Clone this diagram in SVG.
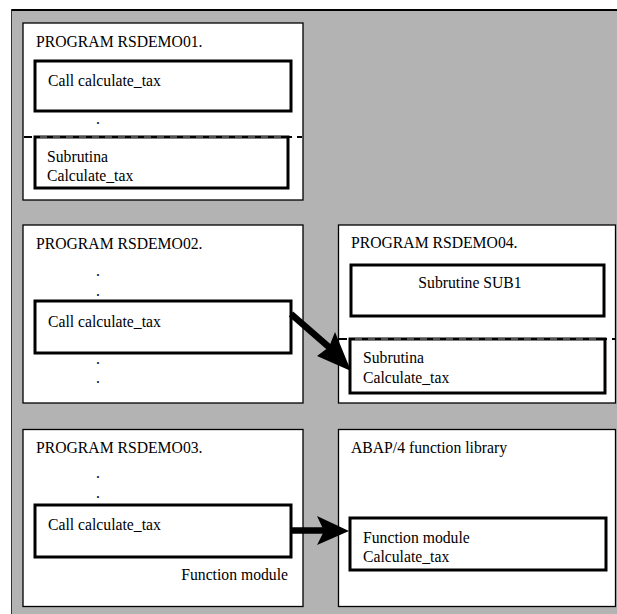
<svg xmlns="http://www.w3.org/2000/svg" width="617" height="614" viewBox="0 0 617 614">
  <style>
    .panel { fill: #ffffff; stroke: #000000; stroke-width: 1.3; }
    .box { fill: #ffffff; stroke: #000000; stroke-width: 3; }
    .sep { stroke: #000000; stroke-width: 2; stroke-dasharray: 8 5; fill: none; }
    .sepdots { stroke: #a0a0a0; stroke-width: 1; stroke-dasharray: 7 6; fill: none; }
    .link { stroke: #000000; stroke-width: 6.5; fill: none; }
    .head { fill: #000000; stroke: none; }
  </style>

  <!-- background frame -->
  <rect x="12" y="10" width="605" height="604" fill="#b3b3b3"/>
  <line x1="11" y1="10" x2="617" y2="10" stroke="#000" stroke-width="2"/>
  <line x1="11.5" y1="9" x2="11.5" y2="614" stroke="#333" stroke-width="1"/>

  <g font-family="'Liberation Serif', 'Times New Roman', 'DejaVu Serif', serif" font-size="15.7" fill="#000">
  <!-- RSDEMO01 -->
  <g id="rsdemo01">
    <rect class="panel" x="23" y="23" width="280" height="177"/>
    <text x="36" y="47">PROGRAM RSDEMO01.</text>
    <rect class="box" x="35" y="61" width="256" height="50"/>
    <text x="48" y="86">Call calculate_tax</text>
    <text x="96" y="124">.</text>
    <line class="sep" x1="24" y1="137" x2="302" y2="137"/>
    <rect class="box" x="35" y="137" width="253" height="51"/>
    <line class="sepdots" x1="40" y1="137" x2="285" y2="137"/>
    <text x="47" y="162">Subrutina</text>
    <text x="47" y="181">Calculate_tax</text>
  </g>

  <!-- RSDEMO02 -->
  <g id="rsdemo02">
    <rect class="panel" x="23" y="225" width="280" height="178"/>
    <text x="36" y="249">PROGRAM RSDEMO02.</text>
    <text x="96" y="276">.</text>
    <text x="96" y="296">.</text>
    <rect class="box" x="35" y="301" width="256" height="52"/>
    <text x="48" y="327">Call calculate_tax</text>
    <text x="96" y="364">.</text>
    <text x="96" y="383">.</text>
  </g>

  <!-- RSDEMO04 -->
  <g id="rsdemo04">
    <rect class="panel" x="338.5" y="225" width="277" height="178"/>
    <text x="351" y="248">PROGRAM RSDEMO04.</text>
    <rect class="box" x="351" y="265" width="253" height="51"/>
    <text x="470" y="288" text-anchor="middle">Subrutine SUB1</text>
    <line class="sep" x1="339" y1="339" x2="615" y2="339"/>
    <rect class="box" x="350" y="339" width="255" height="54"/>
    <line class="sepdots" x1="355" y1="339" x2="600" y2="339"/>
    <text x="363" y="363">Subrutina</text>
    <text x="363" y="383">Calculate_tax</text>
  </g>

  <!-- RSDEMO03 -->
  <g id="rsdemo03">
    <rect class="panel" x="23" y="429.5" width="280" height="177"/>
    <text x="36" y="453">PROGRAM RSDEMO03.</text>
    <text x="96" y="478">.</text>
    <text x="96" y="498">.</text>
    <rect class="box" x="35" y="505" width="256" height="52"/>
    <text x="48" y="530">Call calculate_tax</text>
    <text x="288" y="580" text-anchor="end">Function module</text>
  </g>

  <!-- function library -->
  <g id="function-library">
    <rect class="panel" x="338.5" y="429.5" width="277" height="177"/>
    <text x="351" y="453">ABAP/4 function library</text>
    <rect class="box" x="350" y="518" width="256" height="52"/>
    <text x="363" y="543">Function module</text>
    <text x="363" y="562">Calculate_tax</text>
  </g>
  </g>

  <!-- connectors -->
  <g id="connectors">
    <line class="link" x1="291" y1="314" x2="330" y2="348"/>
    <path class="head" d="M351,371 L317,356 L329,347 L335,332 Z"/>
    <line class="link" x1="291" y1="530.5" x2="325" y2="530.5"/>
    <path class="head" d="M349,531 L317,516 L324,531 L317,545 Z"/>
  </g>
</svg>
